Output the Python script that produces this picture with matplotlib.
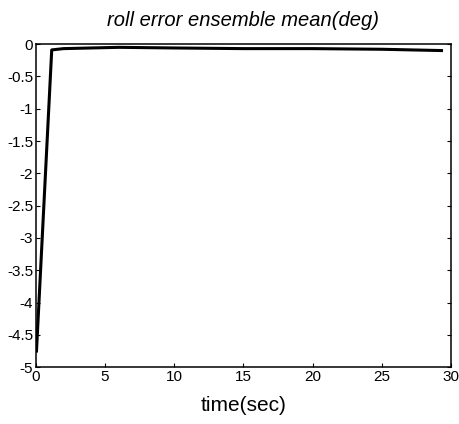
import matplotlib.pyplot as plt

plt.rcParams['font.family'] = ['Liberation Sans', 'DejaVu Sans']

# roll error ensemble mean (deg) vs time (sec)
time_sec = [0.05, 1.15, 2.0, 4.0, 6.0, 10.0, 15.0, 20.0, 25.0, 29.3]
roll_err = [-4.75, -0.09, -0.07, -0.06, -0.05, -0.06, -0.07, -0.07, -0.08, -0.10]

fig = plt.figure(figsize=(4.59, 4.24), dpi=100)
ax = fig.add_axes([0.078, 0.134, 0.905, 0.762])

ax.plot(time_sec, roll_err, color="black", linewidth=2.2)

ax.set_xlim(0, 30)
ax.set_ylim(-5, 0)
ax.set_xticks([0, 5, 10, 15, 20, 25, 30])
ax.set_xticklabels(["0", "5", "10", "15", "20", "25", "30"])
ax.set_yticks([0, -0.5, -1, -1.5, -2, -2.5, -3, -3.5, -4, -4.5, -5])
ax.set_yticklabels(["0", "-0.5", "-1", "-1.5", "-2", "-2.5", "-3", "-3.5", "-4", "-4.5", "-5"])
ax.tick_params(direction="in", length=3, width=0.8, labelsize=11, pad=2,
               right=True, top=False)
for s in ax.spines.values():
    s.set_linewidth(1.1)

ax.set_title("roll error ensemble mean(deg)", fontsize=14.5, style="italic", pad=13)
ax.set_xlabel("time(sec)", fontsize=15, labelpad=9)

plt.savefig("out.png", dpi=100)
